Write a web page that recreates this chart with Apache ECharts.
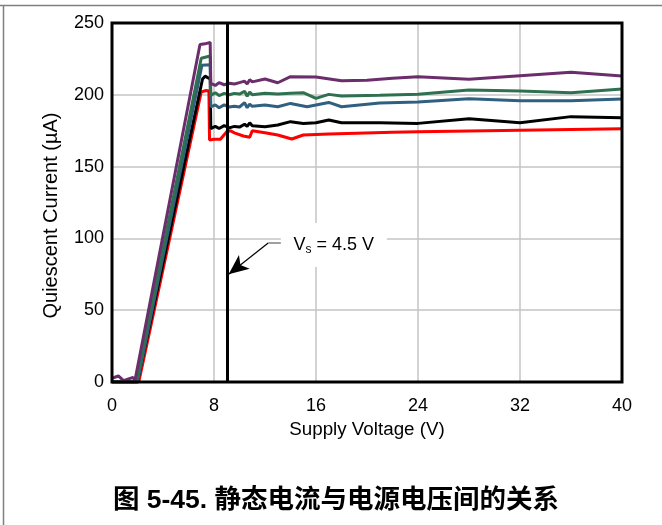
<!DOCTYPE html>
<html>
<head>
<meta charset="utf-8">
<script src="https://cdn.jsdelivr.net/npm/echarts@6/dist/echarts.min.js"></script>
<style>
html,body{margin:0;padding:0;background:#fff;}
#c{width:662px;height:525px;}
</style>
</head>
<body>
<div id="c"></div>
<script>
// Supply voltage (V) / quiescent current (µA) for each curve
const vPurple = [0, 0.5, 0.9, 1.65, 1.8, 6.9, 7.3, 7.7, 7.75, 8.1, 8.4, 8.8, 9.2, 9.6, 10.0, 10.4, 10.6, 10.8, 11.0, 12.0, 13.0, 14.0, 16.0, 18.0, 20.0, 22.0, 24.0, 28.0, 32.0, 36.0, 40.0];
const iPurple = [2.6, 4.2, 0.9, 3.2, 1, 235, 235.5, 236.5, 208, 206.5, 208.5, 207, 208, 207.5, 208.5, 209.5, 207.5, 210.5, 209, 211, 208.4, 212.6, 212.4, 209.8, 210.2, 211.5, 212.6, 210.8, 213.3, 215.7, 213.1];

const vGreen = [0, 1.9, 7.0, 7.7, 7.75, 8.1, 8.4, 8.8, 9.2, 9.6, 10.0, 10.4, 10.6, 10.8, 11.0, 12.0, 13.0, 14.0, 15.0, 16.0, 17.0, 18.0, 21.0, 24.0, 28.0, 32.0, 36.0, 40.0];
const iGreen = [0, 0, 225.5, 227, 199.5, 201.5, 199.5, 201, 200, 201, 200.5, 202.5, 199, 202, 200, 201, 200.5, 201, 201.5, 197.5, 200.3, 199.2, 199.6, 200.3, 203.3, 202.6, 201.5, 204.0];

const vBlue = [0, 2.0, 7.05, 7.7, 7.75, 8.1, 8.4, 8.8, 9.2, 9.6, 10.0, 10.4, 10.6, 10.8, 11.0, 12.0, 13.0, 14.0, 15.3, 17.0, 18.0, 21.0, 24.0, 28.0, 32.0, 36.0, 40.0];
const iBlue = [0, 0, 220.5, 221, 191.5, 193, 191, 193, 191.5, 192, 191.5, 194.5, 191, 193.5, 192, 192.9, 191.7, 194, 191.7, 194.7, 191.7, 194.3, 195.0, 197.3, 195.9, 195.9, 197.1];

const vBlack = [0, 2.0, 7.1, 7.3, 7.7, 7.75, 8.1, 8.4, 8.8, 9.2, 9.6, 10.0, 10.4, 10.6, 10.8, 11.0, 12.0, 13.0, 14.0, 15.0, 16.0, 17.0, 18.0, 21.0, 24.0, 28.0, 32.0, 36.0, 40.0];
const iBlack = [0, 0, 211, 213, 211, 176.5, 178, 176.5, 178.5, 177, 178, 177.5, 179.5, 178, 180.5, 178.5, 177.8, 179, 181.3, 180, 180.5, 182.5, 180.6, 180.6, 180.1, 183.4, 180.6, 184.8, 184.1];

const vRed = [0, 2.1, 7.0, 7.4, 7.6, 7.65, 8.0, 8.5, 9.0, 9.3, 9.6, 10.3, 10.8, 11.0, 12.0, 13.0, 14.1, 15.0, 17.0, 22.0, 24.0, 40.0];
const iRed = [0, 0, 202, 203, 202.5, 168.5, 169, 169, 174.3, 175, 173.5, 171.3, 170.4, 175, 173.6, 172, 169.2, 172, 172.7, 173.9, 174.3, 176.4];

const xTicks = [0, 8, 16, 24, 32, 40];
const yTicks = [0, 50, 100, 150, 200, 250];
const markerVoltage = 9.0;
const annotationText = 'V{sub|s} = 4.5 V';
const captionText = '图 5-45. 静态电流与电源电压间的关系';

const zip = (xs, ys) => xs.map((x, i) => [x, ys[i]]);
const FONT = '"Liberation Sans", Arial, sans-serif';

const chart = echarts.init(document.getElementById('c'), null, {renderer: 'canvas'});

function line(name, xs, ys, color, extra) {
  return Object.assign({
    name, type: 'line', data: zip(xs, ys), showSymbol: false, symbol: 'none',
    lineStyle: {color, width: 3}, itemStyle: {color}, animation: false, z: 3
  }, extra || {});
}

chart.setOption({
  animation: false,
  grid: {left: 112, right: 40, top: 23, bottom: 143, show: true, borderColor: '#000', borderWidth: 3, backgroundColor: 'transparent', z: 5},
  xAxis: {
    type: 'value', min: xTicks[0], max: xTicks[xTicks.length - 1], interval: 8,
    name: 'Supply Voltage (V)', nameLocation: 'middle', nameGap: 30,
    nameTextStyle: {fontFamily: FONT, fontSize: 18.8, color: '#000'},
    axisLine: {show: false}, axisTick: {show: false},
    axisLabel: {fontFamily: FONT, fontSize: 18, color: '#000', margin: 15},
    splitLine: {show: true, lineStyle: {color: '#c4c4c4', width: 1.5}}
  },
  yAxis: {
    type: 'value', min: yTicks[0], max: yTicks[yTicks.length - 1], interval: 50,
    name: 'Quiescent Current (µA)', nameLocation: 'middle', nameGap: 51,
    nameTextStyle: {fontFamily: FONT, fontSize: 20, color: '#000', padding: [0, 0, 0, -26]},
    axisLine: {show: false}, axisTick: {show: false},
    axisLabel: {fontFamily: FONT, fontSize: 18, color: '#000', margin: 8},
    splitLine: {show: true, lineStyle: {color: '#c4c4c4', width: 1.5}}
  },
  series: [
    line('red', vRed, iRed, '#ff0000', {
      markLine: {
        silent: true, animation: false, symbol: 'none',
        label: {show: false},
        data: [
          {xAxis: markerVoltage, lineStyle: {color: '#000', width: 3, type: 'solid'}},
          [{coord: [12.25, 96.8], symbol: 'none', lineStyle: {color: '#000', width: 1.2, type: 'solid'}},
           {coord: [9.15, 75.0], symbol: 'arrow', symbolSize: [13, 20]}],
          [{coord: [12.25, 96.8], symbol: 'none', lineStyle: {color: '#808080', width: 1.5, type: 'solid'}},
           {coord: [13.6, 96.8], symbol: 'none'}]
        ]
      },
      markPoint: {
        silent: true, animation: false,
        data: [{
          coord: [17.4, 95.4], symbol: 'rect', symbolSize: [106, 44],
          itemStyle: {color: '#fff'},
          label: {
            show: true, position: 'inside', formatter: annotationText,
            fontFamily: FONT, fontSize: 18, color: '#000',
            rich: {sub: {fontFamily: FONT, fontSize: 12, color: '#000', padding: [9, 0, 0, 0]}}
          }
        }]
      }
    }),
    line('black', vBlack, iBlack, '#000000'),
    line('blue', vBlue, iBlue, '#2f6080'),
    line('green', vGreen, iGreen, '#2f7050'),
    line('purple', vPurple, iPurple, '#6b2d6b')
  ],
  graphic: [
    {type: 'line', shape: {x1: 0, y1: 5.5, x2: 662, y2: 5.5}, style: {stroke: '#7f7f7f', lineWidth: 1.5}, silent: true},
    {type: 'line', shape: {x1: 3.5, y1: 5.5, x2: 3.5, y2: 525}, style: {stroke: '#7f7f7f', lineWidth: 1.5}, silent: true},
    {type: 'text', x: 336, y: 501, style: {text: captionText, fontFamily: '"Liberation Sans", "Noto Sans CJK SC", sans-serif', fontWeight: 'bold', fontSize: 26.5, fill: '#000', textAlign: 'center', textVerticalAlign: 'middle'}, silent: true}
  ]
});
</script>
</body>
</html>
